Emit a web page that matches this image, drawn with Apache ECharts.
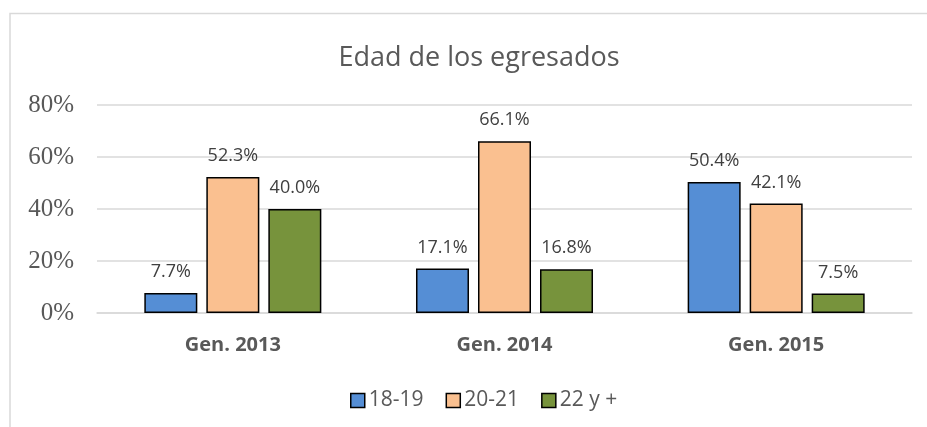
<!DOCTYPE html>
<html>
<head>
<meta charset="utf-8">
<script src="https://cdn.jsdelivr.net/npm/echarts@6/dist/echarts.min.js"></script>
<style>
  html, body { margin: 0; padding: 0; background: #fff; }
  #chart { width: 927px; height: 427px; }
</style>
</head>
<body>
<div id="chart"></div>
<script>
// datos
var categorias = ['Gen. 2013', 'Gen. 2014', 'Gen. 2015'];
var edad1819 = [7.7, 17.1, 50.4];
var edad2021 = [52.3, 66.1, 42.1];
var edad22 = [40.0, 16.8, 7.5];
var nombres = ['18-19', '20-21', '22 y +'];
var colores = ['#558ED5', '#FAC090', '#77933C'];

var chart = echarts.init(document.getElementById('chart'));

function serie(nombre, datos, color) {
    return {
        name: nombre,
        type: 'bar',
        data: datos,
        barWidth: 53,
        barGap: '17%',
        itemStyle: { color: color, borderColor: '#000', borderWidth: 1.5 },
        label: {
            show: true,
            position: 'top',
            distance: 12,
            color: '#404040',
            fontFamily: 'Open Sans',
            fontSize: 18,
            formatter: function (p) { return p.value.toFixed(1) + '%'; }
        }
    };
}

var option = {
    backgroundColor: '#fff',
    animation: false,
    title: {
        text: 'Edad de los egresados',
        left: 474,
        textAlign: 'center',
        top: 40,
        textStyle: { fontFamily: 'Open Sans', fontSize: 27, fontWeight: 'normal', color: '#595959' }
    },
    graphic: [{
        type: 'polyline',
        shape: { points: [[10, 427], [10, 13.5], [927, 13.5]] },
        style: { stroke: '#d9d9d9', lineWidth: 1.5, fill: null }
    }],
    legend: {
        data: nombres,
        bottom: 11,
        left: 345,
        itemWidth: 14,
        itemHeight: 14,
        itemGap: 22,
        icon: 'rect',
        itemStyle: { borderColor: '#000', borderWidth: 1.5 },
        textStyle: { fontFamily: 'Open Sans', fontSize: 21, color: '#595959', padding: [0, 0, 0, -1] }
    },
    grid: { left: 97, right: 15, top: 105, bottom: 114, containLabel: false },
    xAxis: {
        type: 'category',
        data: categorias,
        axisLine: { lineStyle: { color: '#d9d9d9', width: 1.5 } },
        axisTick: { show: false },
        axisLabel: {
            margin: 22,
            fontFamily: 'Open Sans',
            fontSize: 20,
            fontWeight: 'bold',
            color: '#595959'
        }
    },
    yAxis: {
        type: 'value',
        min: 0,
        max: 80,
        interval: 20,
        axisLine: { show: false },
        axisTick: { show: false },
        splitLine: { lineStyle: { color: '#d9d9d9', width: 1.5 } },
        axisLabel: {
            margin: 23,
            formatter: '{value}%',
            fontFamily: 'Liberation Serif',
            fontSize: 25,
            color: '#595959'
        }
    },
    series: [
        serie(nombres[0], edad1819, colores[0]),
        serie(nombres[1], edad2021, colores[1]),
        serie(nombres[2], edad22, colores[2])
    ]
};

chart.setOption(option);
</script>
</body>
</html>
